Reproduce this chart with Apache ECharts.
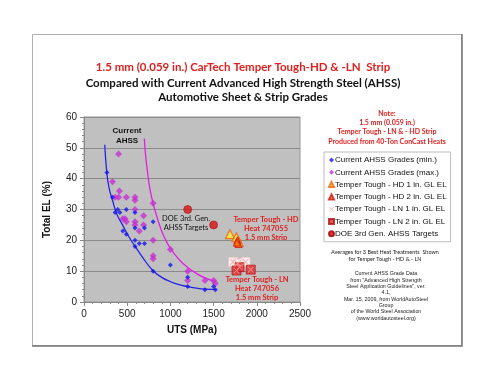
<!DOCTYPE html>
<html>
<head>
<meta charset="utf-8">
<script src="https://cdn.jsdelivr.net/npm/echarts@6/dist/echarts.min.js"></script>
<style>
  html, body { margin: 0; padding: 0; background: #fff; }
  #main { width: 500px; height: 375px; }
</style>
</head>
<body>
<div id="main"></div>
<script>
// 数据
var ahssMin = [[265,42],[330,34],[360,29],[390,30],[415,29],[490,30],[450,23],[490,22],
    [590,29],[590,24],[590,20],[590,18],[640,19],[700,19],[700,24],[800,26],[800,10],
    [1000,12],[1200,8],[1200,5],[1400,4],[1500,5],[1520,4]];
var ahssMax = [[400,48],[330,39],[360,34],[400,34],[410,36],[490,34],[590,34],[590,33],
    [590,30],[690,28],[450,27],[475,27],[490,26],[590,26],[590,25],[640,23],[690,25],
    [800,32],[800,20],[800,15],[800,14],[1000,17],[1200,10],[1200,7],[1400,7],[1500,7],[1520,6]];
var hd1in = [[1690,22],[1765,21],[1790,19.5]];
var hd2in = [[1775,20],[1790,18.8],[1770,19.3]];
var ln1in = [[1725,13],[1870,13],[1780,12.5]];
var ln2in = [[1765,10.2],[1800,11.3],[1930,10.5]];
var doeTargets = [[1200,30],[1500,25]];
// 趋势线（读取的曲线点）
var minTrend = [[240,51],[264,42],[290,37],[330,33],[380,28.5],[446,25],[523,21],[581,18.5],
    [678,14.5],[794,10.3],[900,8],[1000,6.6],[1100,5.6],[1200,5],[1300,4.5],[1400,4.2],[1530,4.1]];
var maxTrend = [[698,53],[715,47],[736,42],[755,38],[775,35],[800,32],[840,28],[880,24.5],
    [930,21],[1000,17.4],[1100,13.8],[1200,11.2],[1300,9.3],[1400,7.8],[1520,6.6]];
var xTicks = [0, 500, 1000, 1500, 2000, 2500];
var yTicks = [0, 10, 20, 30, 40, 50, 60];

var legendNames = ['Current AHSS Grades (min.)', 'Current AHSS Grades (max.)',
    'Temper Tough - HD 1 in. GL EL', 'Temper Tough - HD 2 in. GL EL',
    'Temper Tough - LN 1 in. GL EL', 'Temper Tough - LN 2 in. GL EL',
    'DOE 3rd Gen. AHSS Targets'];

var xPath = 'path://M1,0 L5,4 L9,0 L10,1 L6,5 L10,9 L9,10 L5,6 L1,10 L0,9 L4,5 L0,1 Z';
var serif = 'Lato';
var sans = 'Liberation Sans';

function txt(x, y, s, size, color, bold, font) {
    return {
        type: 'text', x: x, y: y, silent: true,
        style: {
            text: s, fill: color, align: 'center', verticalAlign: 'middle',
            font: (bold ? 'bold ' : '') + size + 'px "' + (font || serif) + '"',
            lineHeight: size * 1.2
        }
    };
}

var chart = echarts.init(document.getElementById('main'));
var option = {
    animation: false,
    backgroundColor: '#fff',
    grid: {
        left: 84, top: 117, width: 216, height: 185,
        show: true, backgroundColor: '#c0c0c0', borderColor: '#999', borderWidth: 1
    },
    xAxis: {
        type: 'value', min: 0, max: 2500, interval: 500,
        name: 'UTS (MPa)', nameLocation: 'middle', nameGap: 23,
        nameTextStyle: { fontFamily: sans, fontWeight: 'bold', fontSize: 10, color: '#111' },
        axisLine: { lineStyle: { color: '#888' } },
        axisTick: { length: 4, lineStyle: { color: '#888' } },
        minorTick: { show: true, splitNumber: 5, length: 2, lineStyle: { color: '#888' } },
        axisLabel: { margin: 7, fontFamily: sans, fontSize: 10, color: '#222',
            formatter: function (v) { return xTicks.indexOf(v) >= 0 ? v : ''; } },
        splitLine: { show: false }
    },
    yAxis: {
        type: 'value', min: 0, max: 60, interval: 10,
        name: 'Total EL (%)', nameLocation: 'middle', nameGap: 32, nameRotate: 90,
        nameTextStyle: { fontFamily: sans, fontWeight: 'bold', fontSize: 10, color: '#111' },
        axisLine: { show: true, lineStyle: { color: '#888' } },
        axisTick: { show: true, length: 4, lineStyle: { color: '#888' } },
        minorTick: { show: true, splitNumber: 5, length: 2, lineStyle: { color: '#888' } },
        axisLabel: { margin: 7, fontFamily: sans, fontSize: 10, color: '#222',
            formatter: function (v) { return yTicks.indexOf(v) >= 0 ? v : ''; } },
        splitLine: { lineStyle: { color: '#8a8a8a', width: 1 } }
    },
    legend: {
        data: legendNames,
        orient: 'vertical', left: 324, top: 152,
        padding: [3, 4, 3, 4], itemGap: 2.3, itemWidth: 5, itemHeight: 5,
        backgroundColor: '#fff', borderColor: '#bbb', borderWidth: 1,
        textStyle: { fontFamily: sans, fontSize: 8, color: '#111', lineHeight: 10, padding: [0, 0, 0, -4] }
    },
    series: [
        {
            name: 'minTrend', type: 'line', data: minTrend, smooth: true, showSymbol: false,
            lineStyle: { color: '#2323e6', width: 1.3 }, silent: true, z: 1
        },
        {
            name: 'maxTrend', type: 'line', data: maxTrend, smooth: true, showSymbol: false,
            lineStyle: { color: '#e020e0', width: 1.3 }, silent: true, z: 1
        },
        {
            name: legendNames[0], type: 'scatter', data: ahssMin, symbol: 'diamond', symbolSize: 5,
            itemStyle: { color: '#1414f0' }, z: 3
        },
        {
            name: legendNames[1], type: 'scatter', data: ahssMax, symbol: 'diamond', symbolSize: 7,
            itemStyle: { color: '#c52fd2' }, z: 2
        },
        {
            name: legendNames[2], type: 'scatter', data: hd1in, symbol: 'triangle', symbolSize: 9,
            itemStyle: { color: '#ffee33', borderColor: '#f06010', borderWidth: 1.2 }, z: 4
        },
        {
            name: legendNames[3], type: 'scatter', data: hd2in, symbol: 'triangle', symbolSize: 7,
            itemStyle: { color: '#f08010', borderColor: '#d01010', borderWidth: 1 }, z: 5
        },
        {
            name: 'ln1box', type: 'scatter', data: ln1in, symbol: 'rect', symbolSize: 9,
            itemStyle: { color: '#ffffff', borderColor: '#f4c0c0', borderWidth: 0.8 }, z: 4
        },
        {
            name: legendNames[4], type: 'scatter', data: ln1in, symbol: xPath, symbolSize: 7,
            itemStyle: { color: '#f4a0a0' }, z: 5
        },
        {
            name: legendNames[5], type: 'scatter', data: ln2in, symbol: 'rect', symbolSize: 9,
            itemStyle: { color: '#e02a2a', borderColor: '#b01010', borderWidth: 0.8 }, z: 4
        },
        {
            name: 'ln2x', type: 'scatter', data: ln2in, symbol: xPath, symbolSize: 6,
            itemStyle: { color: '#ff9a9a' }, z: 5
        },
        {
            name: legendNames[6], type: 'scatter', data: doeTargets, symbol: 'circle', symbolSize: 8,
            itemStyle: { color: '#d41414', borderColor: '#a00000', borderWidth: 0.6 }, z: 4
        }
    ],
    graphic: [
        // 外框
        { type: 'rect', silent: true, shape: { x: 32.5, y: 34.5, width: 429, height: 311 },
          style: { fill: 'none', stroke: '#b0b0b0', lineWidth: 1 } },
        { type: 'polyline', silent: true, shape: { points: [[462, 34], [462, 346], [32, 346]] },
          style: { fill: 'none', stroke: '#777', lineWidth: 1.5 } },
        // 标题
        txt(243, 67, '1.5 mm (0.059 in.) CarTech Temper Tough-HD & -LN  Strip', 11.5, '#e02020', true),
        txt(243, 83, 'Compared with Current Advanced High Strength Steel (AHSS)', 11.5, '#111', true),
        txt(243, 97.5, 'Automotive Sheet & Strip Grades', 11.5, '#111', true),
        // 注释
        txt(387, 113.5, 'Note:', 7, '#e02020', true),
        txt(387, 123, '1.5 mm (0.059 in.)', 7, '#e02020', true),
        txt(387, 132.2, 'Temper Tough - LN & - HD Strip', 7, '#e02020', true),
        txt(387, 141.4, 'Produced from 40-Ton ConCast Heats', 7, '#e02020', true),
        txt(385, 255.5, 'Averages for 3 Best Heat Treatments  Shown\nfor Temper Tough - HD & - LN', 5.5, '#222', false),
        txt(386, 296, 'Current AHSS Grade Data\nfrom "Advanced High Strength\nSteel Application Guidelines", ver.\n4.1,\nMar. 15, 2009, from WorldAutoSteel\nGroup\nof the World Steel Association\n(www.worldautosteel.org)', 5.3, '#222', false, sans),
        // 图内文字
        txt(127, 136, 'Current\nAHSS', 8, '#111', true, sans),
        txt(186, 223, 'DOE 3rd. Gen.\nAHSS Targets', 7.5, '#111', false),
        txt(266, 228.5, 'Temper Tough - HD\nHeat 747055\n1.5 mm Strip', 7.5, '#e02020', true),
        txt(257, 289, 'Temper Tough - LN\nHeat 747056\n1.5 mm Strip', 7.5, '#e02020', true)
    ]
};
chart.setOption(option);
</script>
</body>
</html>
